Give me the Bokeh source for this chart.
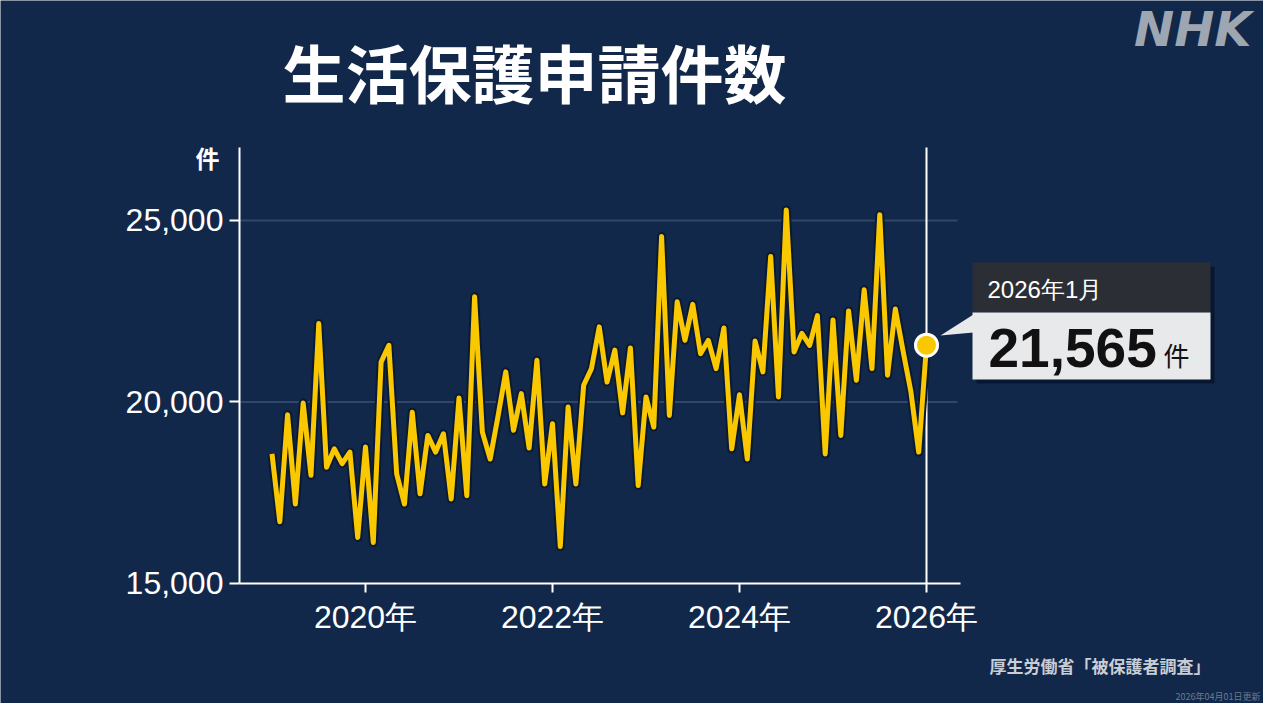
from bokeh.plotting import figure
from bokeh.models import (FixedTicker, NumeralTickFormatter, Label, BoxAnnotation,
                          PolyAnnotation, Range1d, ColumnDataSource)
from bokeh.embed import file_html
from bokeh.resources import INLINE

# ---- data -------------------------------------------------------------
title_text = "生活保護申請件数"
start_year = 2019          # first month: 2019-01
applications = [
    18570, 16700, 19650, 17190, 19970, 17980, 22160, 18200, 18710, 18300, 18620, 16270,  # 2019
    18760, 16130, 21100, 21560, 18020, 17190, 19720, 17470, 19080, 18620, 19125, 17330,  # 2020
    20110, 17420, 22900, 19170, 18430, 19600, 20830, 19220, 20230, 18730, 21150, 17740,  # 2021
    19400, 16020, 19860, 17740, 20460, 20920, 22070, 20550, 21430, 19700, 21490, 17700,  # 2022
    20140, 19310, 24560, 19630, 22760, 21700, 22690, 21330, 21700, 20920, 22040, 18710,  # 2023
    20200, 18430, 21680, 20830, 24010, 20140, 25290, 21380, 21890, 21560, 22380, 18570,  # 2024
    22260, 19080, 22510, 20600, 23090, 20920, 25160, 20740, 22560, 21400, 20280, 18620,  # 2025
    21565,                                                                               # 2026-01
]
x_ticks = [2020, 2022, 2024, 2026]
x_tick_labels = ["2020年", "2022年", "2024年", "2026年"]
y_ticks = [15000, 20000, 25000]
grid_ticks = [20000, 25000]
latest_label = "2026年1月"
latest_value_text = "21,565"
unit = "件"
source_text = "厚生労働省「被保護者調査」"
updated_text = "2026年04月01日更新"

# ---- styling ----------------------------------------------------------
BG = "#12284a"
YELLOW = "#fac800"
GRID = "#30466a"
JP = "Noto Sans CJK JP"
LAT = "Liberation Sans"

W, H = 1263, 703
# plot-area extents (data units)
AX_X0, AX_X1 = 2018.652, 2026.364      # x axis span
GRID_X1 = 2026.332                      # grid line end
AX_Y0, AX_Y1 = 15000, 27011             # y axis span

xs = [start_year + i / 12 for i in range(len(applications))]
src = ColumnDataSource(dict(x=xs, y=applications))

p = figure(width=W, height=H, output_backend="svg", toolbar_location=None,
           x_range=Range1d(2016.0963, 2029.6043), y_range=Range1d(11694.2, 31060.6),
           min_border=0, min_border_left=0, min_border_right=0, min_border_top=0,
           min_border_bottom=0, background_fill_color=BG, border_fill_color=BG,
           outline_line_color=None)

p.xgrid.visible = False
p.ygrid.visible = False

# y axis
ya = p.yaxis[0]
ya.fixed_location = AX_X0
ya.bounds = (AX_Y0, AX_Y1)
ya.ticker = FixedTicker(ticks=y_ticks)
ya.formatter = NumeralTickFormatter(format="0,0")
ya.axis_line_color = "white"
ya.axis_line_width = 2
ya.major_tick_line_color = "white"
ya.major_tick_line_width = 2
ya.major_tick_out = 10
ya.major_tick_in = 0
ya.minor_tick_line_color = None
ya.major_label_standoff = 6
ya.major_label_text_color = "white"
ya.major_label_text_font = LAT
ya.major_label_text_font_size = "32px"

# x axis
xa = p.xaxis[0]
xa.fixed_location = AX_Y0
xa.bounds = (AX_X0, AX_X1)
xa.ticker = FixedTicker(ticks=x_ticks)
xa.major_label_overrides = {t: l for t, l in zip(x_ticks, x_tick_labels)}
xa.axis_line_color = "white"
xa.axis_line_width = 2
xa.major_tick_line_color = "white"
xa.major_tick_line_width = 2
xa.major_tick_out = 9
xa.major_tick_in = 0
xa.minor_tick_line_color = None
xa.major_label_standoff = 7
xa.major_label_text_color = "white"
xa.major_label_text_font = LAT
xa.major_label_text_font_size = "32px"

# grid lines and marker line for the latest month
p.segment(x0=[AX_X0] * len(grid_ticks), x1=[GRID_X1] * len(grid_ticks),
          y0=grid_ticks, y1=grid_ticks, line_color=GRID, line_width=2)
p.segment(x0=[x_ticks[-1]], x1=[x_ticks[-1]], y0=[AX_Y0], y1=[AX_Y1],
          line_color="white", line_width=2)

# series
p.line("x", "y", source=src, line_color="#0b1a33", line_width=9, line_join="round")
p.line("x", "y", source=src, line_color=YELLOW, line_width=5, line_join="round")

# ---- callout box (screen px, origin bottom-left of canvas) -------------------
def box(l, r, t, b, color, alpha=1.0):
    p.add_layout(BoxAnnotation(left=l, right=r, top=t, bottom=b,
                               left_units="screen", right_units="screen",
                               top_units="screen", bottom_units="screen",
                               fill_color=color, fill_alpha=alpha, line_color=None))

box(976, 1214, 437, 320, "#06112a", 0.75)
box(972, 1210, 441, 391, "#2b2f35")
box(972, 1210, 391, 324, "#e8e9eb")
p.add_layout(PolyAnnotation(xs=[940, 973, 973], ys=[368, 389, 371],
                            xs_units="screen", ys_units="screen",
                            fill_color="#e8e9eb", fill_alpha=1, line_color=None))

p.scatter([xs[-1]], [applications[-1]], size=22, fill_color=YELLOW,
          line_color="white", line_width=3)

def lab(text, x, y, size, color="white", font=JP, align="left", baseline="middle", style="normal"):
    p.add_layout(Label(x=x, y=y, x_units="screen", y_units="screen", text=text,
                       text_font_size=size, text_color=color, text_font=font,
                       text_align=align, text_baseline=baseline, text_font_style=style))

lab(title_text, 534, 633, "63px", font=JP, align="center", style="bold")
lab("NHK", 1251, 675, "48px", color="#9ea6b2", font="DejaVu Sans", align="right", style="bold italic")
lab(unit, 207, 546, "24px", font=JP, align="center", style="bold")
lab(source_text, 1210, 38, "17px", color="#c9ced6", font=JP, align="right", style="bold")
lab(updated_text, 1260, 7, "9px", color="#6b7a90", font=JP, align="right")

lab(latest_label, 987, 414, "24px", font=LAT)
lab(latest_value_text, 988, 356, "55px", color="#111111", font=LAT, style="bold")
lab(unit, 1163, 349, "26px", color="#111111", font=JP)

open("out.html", "w").write(file_html(p, INLINE))
